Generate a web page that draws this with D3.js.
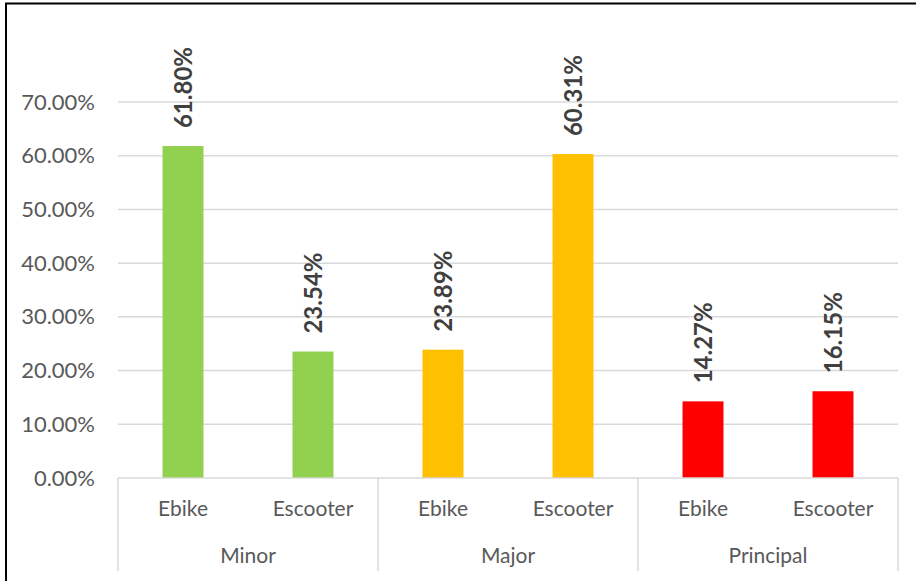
<!DOCTYPE html>
<html>
<head>
<meta charset="utf-8">
<script src="https://cdn.jsdelivr.net/npm/d3@7"></script>
<style>
  html, body { margin: 0; padding: 0; background: #fff; overflow: hidden; }
  svg { display: block; }
</style>
</head>
<body>
<script>
// Injury severity shares by vehicle type
const groups = ["Minor", "Major", "Principal"];
const vehicleTypes = ["Ebike", "Escooter"];
const ebikeValues = [61.80, 23.89, 14.27];
const escooterValues = [23.54, 60.31, 16.15];
const groupColors = ["#92D050", "#FFC000", "#FF0000"];
const yTicks = [0, 10, 20, 30, 40, 50, 60, 70];

const W = 916, H = 581;
const plot = { left: 118, right: 898, top: 102, bottom: 478 };

const svg = d3.select("body").append("svg")
  .attr("width", W).attr("height", H);

// chart frame
svg.append("rect")
  .attr("x", 6).attr("y", 3.5)
  .attr("width", W + 20).attr("height", H + 20)
  .attr("fill", "#fff")
  .attr("stroke", "#000").attr("stroke-width", 2);

const y = d3.scaleLinear().domain([0, 70]).range([plot.bottom, plot.top]);
const xGroup = d3.scaleBand().domain(groups).range([plot.left, plot.right]).padding(0);
const xType = d3.scaleBand().domain(vehicleTypes).range([0, xGroup.bandwidth()]).padding(0);
const barWidth = xType.bandwidth() * 0.315;

const font = "Lato, 'Open Sans', sans-serif";

// horizontal gridlines
svg.append("g").selectAll("line")
  .data(yTicks.filter(t => t > 0))
  .join("line")
  .attr("x1", plot.left).attr("x2", plot.right)
  .attr("y1", d => y(d)).attr("y2", d => y(d))
  .attr("stroke", "#d9d9d9").attr("stroke-width", 1.5);

// value axis
const yAxis = svg.append("g")
  .attr("transform", `translate(${plot.left},0)`)
  .call(d3.axisLeft(y).tickValues(yTicks).tickSize(0).tickPadding(23)
    .tickFormat(d => d.toFixed(2) + "%"));
yAxis.select(".domain").remove();
yAxis.selectAll("text")
  .attr("font-family", font).attr("font-size", 22).attr("fill", "#595959");

// rows of data per group
const rows = groups.map((g, i) => ({
  group: g,
  color: groupColors[i],
  values: [
    { type: "Ebike", value: ebikeValues[i] },
    { type: "Escooter", value: escooterValues[i] }
  ]
}));

const groupSel = svg.append("g").selectAll("g")
  .data(rows)
  .join("g")
  .attr("transform", d => `translate(${xGroup(d.group)},0)`);

groupSel.selectAll("rect")
  .data(d => d.values.map(v => ({ ...v, color: d.color })))
  .join("rect")
  .attr("x", d => xType(d.type) + (xType.bandwidth() - barWidth) / 2)
  .attr("width", barWidth)
  .attr("y", d => y(d.value))
  .attr("height", d => y(0) - y(d.value))
  .attr("fill", d => d.color);

// rotated value labels
groupSel.selectAll("text.val")
  .data(d => d.values)
  .join("text")
  .attr("class", "val")
  .attr("transform", d => `translate(${xType(d.type) + xType.bandwidth() / 2},${y(d.value) - 18}) rotate(-90)`)
  .attr("dy", "0.36em")
  .attr("text-anchor", "start")
  .attr("font-family", font).attr("font-weight", "bold")
  .attr("font-size", 24).attr("fill", "#404040")
  .text(d => d.value.toFixed(2) + "%");

// category axis: baseline and group separators
const axisColor = "#d9d9d9";
svg.append("line")
  .attr("x1", plot.left).attr("x2", plot.right)
  .attr("y1", plot.bottom).attr("y2", plot.bottom)
  .attr("stroke", axisColor).attr("stroke-width", 1.5);

const separators = groups.map(g => xGroup(g)).concat([xGroup(groups[groups.length - 1]) + xGroup.bandwidth()]);
svg.append("g").selectAll("line")
  .data(separators)
  .join("line")
  .attr("x1", d => d).attr("x2", d => d)
  .attr("y1", plot.bottom).attr("y2", 571)
  .attr("stroke", axisColor).attr("stroke-width", 1.5);

// vehicle type labels
groupSel.selectAll("text.type")
  .data(d => d.values)
  .join("text")
  .attr("class", "type")
  .attr("x", d => xType(d.type) + xType.bandwidth() / 2)
  .attr("y", 516)
  .attr("text-anchor", "middle")
  .attr("font-family", font).attr("font-size", 21).attr("fill", "#595959")
  .text(d => d.type);

// group labels
groupSel.append("text")
  .attr("x", xGroup.bandwidth() / 2)
  .attr("y", 563)
  .attr("text-anchor", "middle")
  .attr("font-family", font).attr("font-size", 21).attr("fill", "#595959")
  .text(d => d.group);
</script>
</body>
</html>
